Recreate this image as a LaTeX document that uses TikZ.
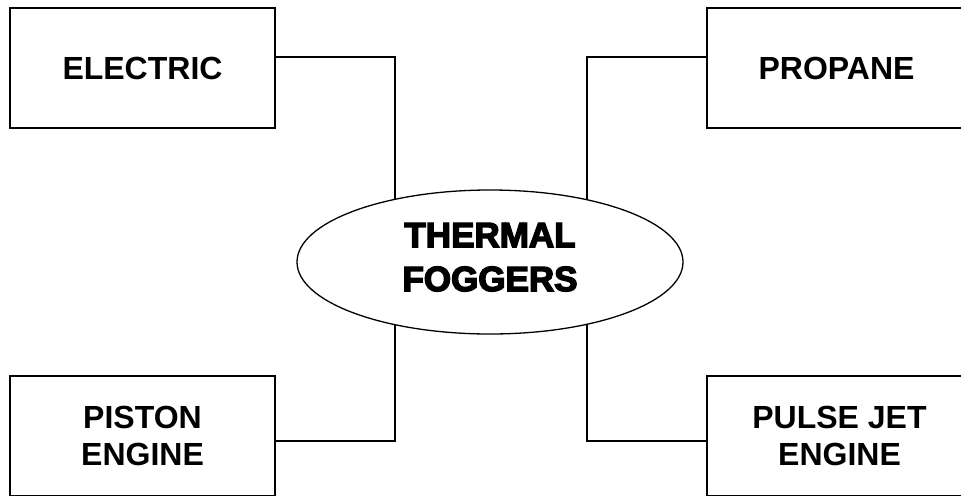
\documentclass[tikz,border=0pt]{standalone}
\usepackage{fontspec}
\setmainfont{Liberation Sans}
\newfontfamily\blackfont{Liberation Sans}[BoldFeatures={FakeBold=4}]
\usetikzlibrary{positioning,shapes.geometric,backgrounds}

\begin{document}
\begin{tikzpicture}[
  x=0.5pt, y=0.5pt,
  kind/.style={draw=black, line width=0.65pt, align=center,
               minimum width=132.5pt, minimum height=60pt, inner sep=0pt,
               font=\fontsize{16}{18.5}\selectfont\bfseries},
  hub/.style={ellipse, draw=black, line width=0.65pt, fill=white, align=center,
              minimum width=193pt, minimum height=72pt, inner sep=0pt,
              text depth=5pt,
              font=\blackfont\fontsize{17.5}{22}\selectfont\bfseries},
  link/.style={draw=black, line width=0.65pt},
]
  \useasboundingbox (0,0) rectangle (961,495);

  \node[hub] (fog) at (490,233) {THERMAL\\FOGGERS};

  \node[kind] (elec) at (142.5,427) {ELECTRIC};
  \node[kind] (prop) at (839.5,427) {\hspace*{-3pt}PROPANE};
  \node[kind] (pist) at (142.5,59) {PISTON\\ENGINE};
  \node[kind] (puls) at (839.5,59) {PULSE JET\\ENGINE};

  \begin{scope}[on background layer]
    \draw[link] ([yshift=5.5pt]elec.east) -| ([xshift=-47.5pt]fog.center);
    \draw[link] ([yshift=5.5pt]prop.west) -| ([xshift=48.5pt]fog.center);
    \draw[link] ([yshift=-2.5pt]pist.east) -| ([xshift=-47.5pt]fog.center);
    \draw[link] ([yshift=-2.5pt]puls.west) -| ([xshift=48.5pt]fog.center);
  \end{scope}
\end{tikzpicture}
\end{document}
